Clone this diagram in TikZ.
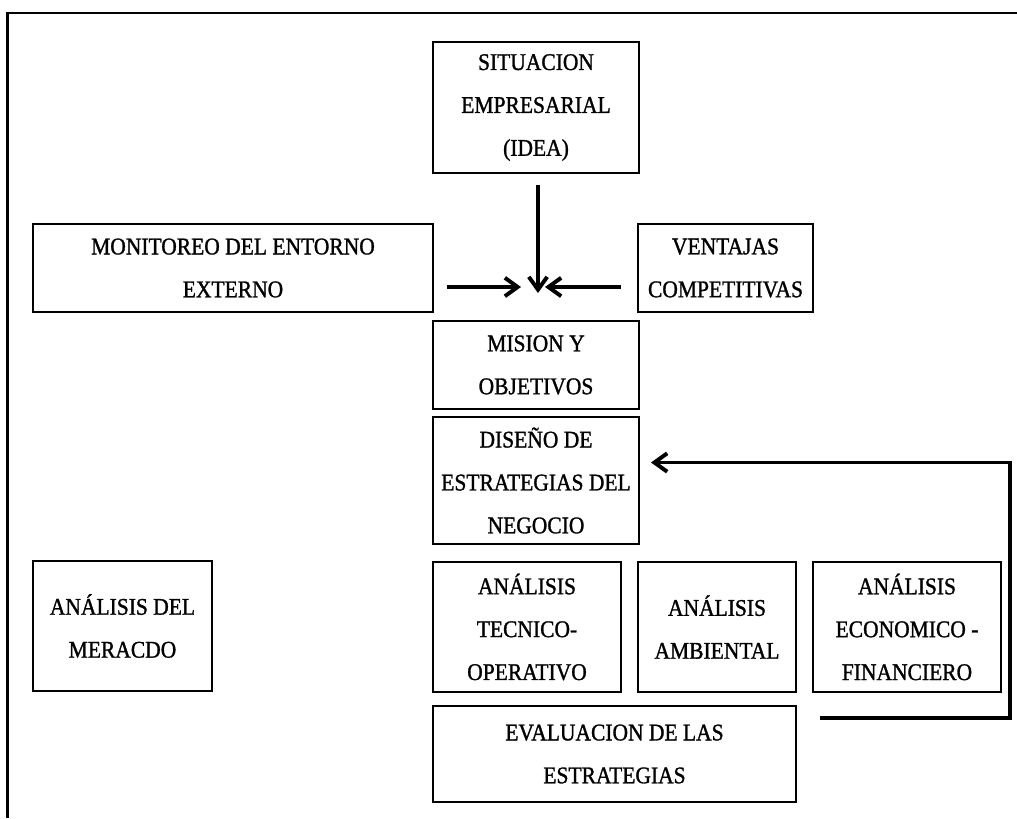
\documentclass[tikz,border=0pt]{standalone}
\usepackage{fontspec}
\setmainfont{Liberation Serif}
\newfontfamily\boxfont{Liberation Serif}[FakeStretch=0.9, FakeBold=1.2]
\usepackage{tikz}
\usetikzlibrary{positioning}
\usetikzlibrary{arrows.meta}
\usetikzlibrary{calc}

\begin{document}
\begin{tikzpicture}[
                x=0.025cm, y=-0.025cm,
                >={Straight Barb[length=0.32cm, width=0.46cm]},
                % Define styles for nodes
                stage box/.style={rectangle, draw=black, line width=1.4pt, inner sep=0pt, align=center,
                                  font=\boxfont\fontsize{17}{30.5}\selectfont},
                flow/.style={->, line width=2.8pt},
                frame line/.style={line width=1.8pt}
            ]
                \useasboundingbox (0,0) rectangle (1017,818);

                % Outer frame (top and left only)
                \draw[frame line] (7.5,818) -- (7.5,13) -- (1017,13);

                % Define nodes
                \node[stage box, minimum width=5.15cm, minimum height=3.275cm] (idea) at (536,107.5) {SITUACION\\EMPRESARIAL\\(IDEA)};
                \node[stage box, minimum width=10cm, minimum height=2.2cm] (monitor) at (233,268) {MONITOREO DEL ENTORNO\\EXTERNO};
                \node[stage box, minimum width=4.375cm, minimum height=2.2cm] (ventajas) at (725.5,268) {VENTAJAS\\COMPETITIVAS};
                \node[stage box, minimum width=5.15cm, minimum height=2.2cm] (mision) at (536,365) {MISION Y\\OBJETIVOS};
                \node[stage box, minimum width=5.15cm, minimum height=3.175cm] (diseno) at (536,480.5) {DISEÑO DE\\ESTRATEGIAS DEL\\NEGOCIO};

                \node[stage box, minimum width=4.475cm, minimum height=3.25cm] (mercado) at (122.5,626) {ANÁLISIS DEL\\MERACDO};
                \node[stage box, minimum width=4.7cm, minimum height=3.25cm] (tecnico) at (527,627) {ANÁLISIS\\TECNICO-\\OPERATIVO};
                \node[stage box, minimum width=3.95cm, minimum height=3.25cm] (ambiental) at (717,627) {ANÁLISIS\\AMBIENTAL};
                \node[stage box, minimum width=4.7cm, minimum height=3.25cm] (economico) at (907,627) {ANÁLISIS\\ECONOMICO -\\FINANCIERO};

                \node[stage box, minimum width=9.075cm, minimum height=2.4cm] (evaluacion) at (614.5,754) {EVALUACION DE LAS\\ESTRATEGIAS};

                % Arrows into the mission
                \coordinate (hub) at (538,293);
                \coordinate (fb) at (820,718);
                \draw[flow] (idea.south -| hub) ++(0,11) -- (hub);
                \draw[flow] (monitor.east |- hub) ++(13,-6) -- ++(74,0);
                \draw[flow] (ventajas.west |- hub) ++(-16,-6) -- ++(-76,0);

                % Feedback from the evaluation to the strategy design
                \draw[flow] (fb) -- ++(190,0) |- ($(diseno.east)+(11,-18)$);
            \end{tikzpicture}
\end{document}
